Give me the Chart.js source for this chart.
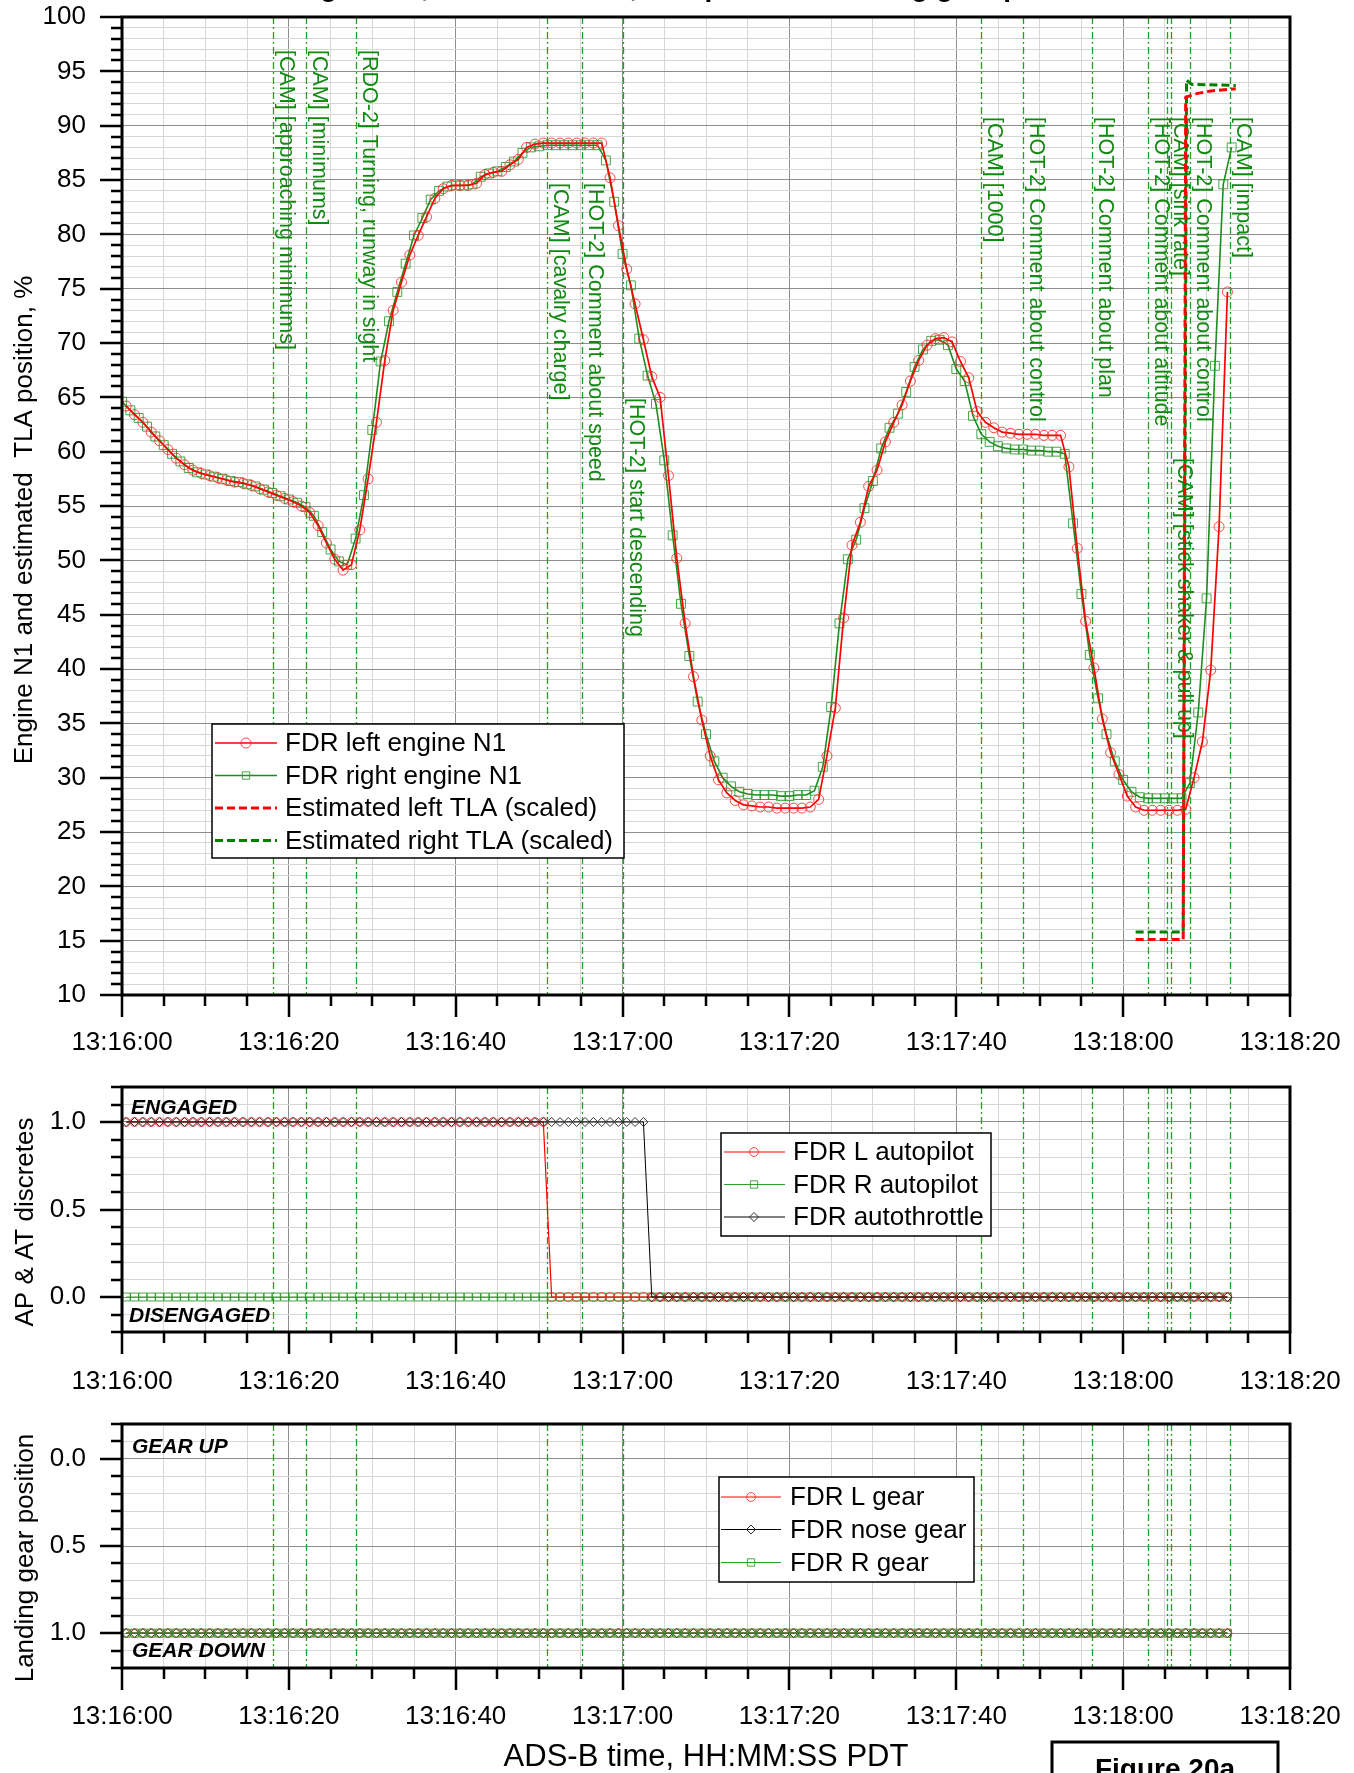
<!DOCTYPE html>
<html>
<head>
<meta charset="utf-8">
<title>Engine N1, TLA, autopilot and landing gear</title>
<script src="https://cdn.jsdelivr.net/npm/chart.js@4.4.1/dist/chart.umd.min.js"></script>
<style>
  html, body { margin: 0; padding: 0; background: #fff; }
  #page { position: relative; width: 1354px; height: 1773px; overflow: hidden; background: #fff; }
  #page canvas { position: absolute; left: 0; }
</style>
</head>
<body>
<div id="page">
  <canvas id="n1Chart" width="1354" height="1075" style="top:0px"></canvas>
  <canvas id="apChart" width="1354" height="330" style="top:1075px"></canvas>
  <canvas id="gearChart" width="1354" height="368" style="top:1405px"></canvas>
</div>
<script>
/* ── data ─────────────────────────────────────────────────── */

const xTickLabels = ['13:16:00', '13:16:20', '13:16:40', '13:17:00', '13:17:20', '13:17:40', '13:18:00', '13:18:20'];
const n1TickLabels = ['10', '15', '20', '25', '30', '35', '40', '45', '50', '55', '60', '65', '70', '75', '80', '85', '90', '95', '100'];
const discreteTickLabels = ['0.0', '0.5', '1.0'];

// FDR N1, one sample a second (seconds after 13:16:00);
// the left engine word lands half a second after the right one
const n1RightStart = 0;
const n1Right = [
  64.6, 63.8, 63.1, 62.3, 61.4, 60.6, 59.8, 59.1, 58.5, 58.1,
  57.9, 57.7, 57.5, 57.3, 57.2, 57.0, 56.8, 56.5, 56.2, 55.9,
  55.6, 55.3, 54.9, 54.1, 52.6, 51.0, 49.9, 49.6, 52.0, 56.0,
  62.0, 68.3, 72.0, 74.7, 77.3, 79.9, 81.5, 83.2, 84.0, 84.4,
  84.5, 84.5, 84.6, 85.3, 85.6, 85.8, 86.2, 86.7, 87.5, 88.0,
  88.1, 88.2, 88.2, 88.2, 88.2, 88.2, 88.2, 88.2, 86.8, 83.0,
  78.2, 75.3, 70.4, 67.0, 64.4, 59.2, 52.3, 46.0, 41.2, 37.0,
  34.0, 31.5, 30.0, 29.2, 28.7, 28.5, 28.4, 28.4, 28.4, 28.3,
  28.3, 28.4, 28.4, 28.8, 31.0, 36.5, 44.2, 50.1, 51.9, 54.8,
  57.3, 60.3, 62.2, 63.5, 65.5, 67.8, 69.4, 70.2, 70.3, 69.8,
  67.6, 66.5, 63.3, 61.6, 60.9, 60.5, 60.3, 60.2, 60.2, 60.1,
  60.1, 60.0, 60.0, 59.8, 53.4, 46.9, 41.3, 37.3, 34.0, 31.5,
  29.8, 28.7, 28.2, 28.1, 28.1, 28.1, 28.1, 28.1, 29.5, 36.0,
  46.5, 67.9, 84.6, 88.0
];
const n1LeftStart = 0.5;
const n1Left = [
  64.2, 63.4, 62.7, 61.8, 61.0, 60.2, 59.4, 58.8, 58.3, 58.0,
  57.8, 57.6, 57.4, 57.2, 57.1, 56.9, 56.6, 56.3, 56.0, 55.7,
  55.4, 55.0, 54.4, 53.2, 51.6, 50.1, 49.1, 49.6, 52.8, 57.5,
  62.7, 68.4, 73.0, 75.6, 78.1, 79.9, 81.6, 83.3, 84.2, 84.5,
  84.5, 84.5, 84.7, 85.5, 85.7, 85.8, 86.4, 86.9, 88.0, 88.3,
  88.4, 88.4, 88.4, 88.4, 88.4, 88.4, 88.4, 88.4, 85.2, 80.8,
  76.8, 73.6, 70.3, 66.9, 65.0, 57.8, 50.2, 44.2, 39.3, 35.3,
  32.0, 29.8, 28.6, 27.9, 27.5, 27.4, 27.3, 27.3, 27.2, 27.2,
  27.2, 27.2, 27.3, 28.0, 32.0, 36.4, 44.7, 51.4, 53.5, 56.8,
  58.3, 60.9, 62.7, 64.3, 66.5, 68.4, 69.8, 70.4, 70.5, 70.1,
  68.3, 66.8, 63.7, 62.7, 62.2, 61.8, 61.7, 61.6, 61.6, 61.6,
  61.5, 61.5, 61.5, 58.6, 51.1, 44.4, 40.1, 35.4, 32.3, 30.3,
  28.3, 27.3, 27.0, 27.0, 27.0, 27.0, 27.0, 27.1, 30.0, 33.3,
  39.9, 53.1, 74.7
];

// estimated thrust lever angle, scaled onto the N1 axis
const tlaLeftT = [121.5, 127.2, 127.5, 128.5, 130.5, 133.5];
const tlaLeft = [15.1, 15.1, 92.6, 92.9, 93.2, 93.4];
const tlaRightT = [121.5, 127.2, 127.6, 128.2, 133.5];
const tlaRight = [15.8, 15.8, 94.2, 93.8, 93.7];

// CVR events, seconds after 13:16:00
const cvrTimes = [18.1, 22.1, 28.0, 51.0, 55.1, 60.0, 103.0, 108.0, 116.3, 123.0, 125.2, 125.7, 128.0, 132.8];
const cvrLabels = [
  '[CAM] [approaching minimums]',
  '[CAM] [minimums]',
  '[RDO-2] Turning, runway in sight',
  '[CAM] [cavalry charge]',
  '[HOT-2] Comment about speed',
  '[HOT-2] start descending',
  '[CAM] [1000]',
  '[HOT-2] Comment about control',
  '[HOT-2] Comment about plan',
  '[HOT-2] Comment about altitude',
  '[CAM] [sink rate]',
  '[CAM] [stick shaker & pull up]',
  '[HOT-2] Comment about control',
  '[CAM] [impact]'
];

// discretes, one sample a second from 0.5 s, stored as [value, count] runs
const discreteStart = 0.5;
const apLeftRuns = [[1, 51], [0, 82]];
const apRightRuns = [[0, 133]];
const atRuns = [[1, 63], [0, 70]];
const gearLeftRuns = [[1, 133]];
const gearNoseRuns = [[1, 133]];
const gearRightRuns = [[1, 133]];

/* ── helpers ──────────────────────────────────────────────── */

const FONT = '"Liberation Sans", Arial, Helvetica, sans-serif';
const MAJOR_GRID = '#8e8e8e';
const MINOR_GRID = '#d7d7d7';
const CVR_LINE = '#23a023';
const CVR_TEXT = '#118a11';

Chart.defaults.font.family = FONT;
Chart.defaults.color = '#000';

function series(start, values) {
  return values.map((v, i) => ({ x: start + i, y: v }));
}

function pairs(ts, values) {
  return ts.map((t, i) => ({ x: t, y: values[i] }));
}

function expandRuns(start, runs) {
  const out = [];
  runs.forEach(([v, n]) => {
    for (let k = 0; k < n; k++) out.push({ x: start + out.length, y: v });
  });
  return out;
}

function onStep(v, step) {
  const r = v / step;
  return Math.abs(r - Math.round(r)) < 1e-6;
}

// fixed axis sizes, and no extra room for overhanging end labels
function fixX(height) {
  return s => { s.height = height; s.paddingLeft = 0; s.paddingRight = 0; };
}
function fixY(s) {
  s.width = 122; s.paddingTop = 0; s.paddingBottom = 0;
}

function timeAxis(height, pad) {
  return {
    type: 'linear', min: 0, max: 140,
    afterFit: fixX(height),
    border: { display: false },
    grid: {
      drawTicks: false, lineWidth: 1,
      color: c => (onStep(c.tick.value, 20) ? MAJOR_GRID : MINOR_GRID)
    },
    ticks: {
      stepSize: 5, autoSkip: false, maxRotation: 0, minRotation: 0, padding: pad,
      font: { size: 26 },
      callback: v => (onStep(v, 20) ? xTickLabels[Math.round(v / 20)] : '')
    }
  };
}

function discreteAxis(reverse) {
  return {
    type: 'linear', min: -0.2, max: 1.2, reverse,
    afterFit: fixY,
    border: { display: false },
    grid: {
      drawTicks: false, lineWidth: 1,
      color: c => (onStep(c.tick.value, 0.5) ? MAJOR_GRID : MINOR_GRID)
    },
    ticks: {
      stepSize: 0.1, autoSkip: false, padding: 36, font: { size: 26 },
      callback: v => {
        const k = Math.round(v * 10);
        return k >= 0 && k <= 10 && k % 5 === 0 ? discreteTickLabels[k / 5] : '';
      }
    }
  };
}

function drawMarker(ctx, style, x, y, r, color) {
  ctx.save();
  ctx.setLineDash([]);
  ctx.strokeStyle = color;
  ctx.lineWidth = 1;
  ctx.beginPath();
  if (style === 'circle') {
    ctx.arc(x, y, r, 0, Math.PI * 2);
  } else if (style === 'rect') {
    const s = r * Math.SQRT1_2;
    ctx.rect(x - s, y - s, 2 * s, 2 * s);
  } else {
    ctx.moveTo(x - r, y); ctx.lineTo(x, y - r); ctx.lineTo(x + r, y); ctx.lineTo(x, y + r); ctx.closePath();
  }
  ctx.stroke();
  ctx.restore();
}

/* ── plugins ──────────────────────────────────────────────── */

// dash-dot event lines, optionally with their rotated captions
function cvrPlugin(labelTops) {
  return {
    id: 'cvr',
    beforeDatasetsDraw(chart) {
      const { ctx, chartArea: a, scales: { x } } = chart;
      ctx.save();
      ctx.beginPath();
      ctx.rect(a.left, a.top, a.right - a.left, a.bottom - a.top);
      ctx.clip();
      ctx.strokeStyle = CVR_LINE;
      ctx.lineWidth = 1.3;
      ctx.setLineDash([7, 3, 2, 3]);
      cvrTimes.forEach(t => {
        const px = Math.round(x.getPixelForValue(t)) + 0.5;
        ctx.beginPath(); ctx.moveTo(px, a.top); ctx.lineTo(px, a.bottom); ctx.stroke();
      });
      if (labelTops) {
        ctx.fillStyle = CVR_TEXT;
        ctx.font = '21.5px ' + FONT;
        ctx.textBaseline = 'alphabetic';
        ctx.textAlign = 'left';
        cvrTimes.forEach((t, i) => {
          ctx.save();
          ctx.translate(x.getPixelForValue(t) + 7, labelTops[i]);
          ctx.rotate(Math.PI / 2);
          ctx.fillText(cvrLabels[i], 0, 0);
          ctx.restore();
        });
      }
      ctx.restore();
    }
  };
}

// heavy frame plus outward tick marks
function framePlugin(yMajorStep) {
  return {
    id: 'frame',
    afterDraw(chart) {
      const { ctx, chartArea: a, scales: { x, y } } = chart;
      ctx.save();
      ctx.strokeStyle = '#000';
      ctx.lineWidth = 2.5;
      ctx.beginPath();
      x.ticks.forEach(t => {
        const px = Math.round(x.getPixelForValue(t.value));
        const len = onStep(t.value, 20) ? 22 : 11;
        ctx.moveTo(px, a.bottom); ctx.lineTo(px, a.bottom + len);
      });
      y.ticks.forEach(t => {
        const py = Math.round(y.getPixelForValue(t.value));
        const len = onStep(t.value, yMajorStep) ? 22 : 11;
        ctx.moveTo(a.left, py); ctx.lineTo(a.left - len, py);
      });
      ctx.stroke();
      ctx.lineWidth = 3;
      ctx.strokeRect(a.left, a.top, a.right - a.left, a.bottom - a.top);
      ctx.restore();
    }
  };
}

// boxed legend built from the dataset styles
function legendPlugin(cfg) {
  return {
    id: 'boxLegend',
    afterDraw(chart) {
      const { ctx } = chart;
      const [x0, y0, x1, y1] = cfg.box;
      ctx.save();
      ctx.fillStyle = '#fff';
      ctx.fillRect(x0, y0, x1 - x0, y1 - y0);
      ctx.strokeStyle = '#000';
      ctx.lineWidth = 1.5;
      ctx.strokeRect(x0, y0, x1 - x0, y1 - y0);
      ctx.font = '26px ' + FONT;
      ctx.textBaseline = 'middle';
      ctx.textAlign = 'left';
      cfg.order.forEach((di, row) => {
        const ds = chart.data.datasets[di];
        const yy = cfg.rowY[row];
        ctx.save();
        ctx.strokeStyle = ds.borderColor;
        ctx.lineWidth = ds.borderWidth;
        ctx.setLineDash(ds.borderDash || []);
        ctx.beginPath(); ctx.moveTo(cfg.lineX[0], yy); ctx.lineTo(cfg.lineX[1], yy); ctx.stroke();
        ctx.restore();
        if (ds.pointRadius > 0) drawMarker(ctx, ds.pointStyle, cfg.markX, yy, Math.min(ds.pointRadius, 5.2), ds.pointBorderColor);
        ctx.fillStyle = '#000';
        ctx.fillText(ds.label, cfg.textX, yy + 1);
      });
      ctx.restore();
    }
  };
}

// free text: axis titles, panel notes, figure caption
function textPlugin(items, boxes) {
  return {
    id: 'freeText',
    afterDraw(chart) {
      const { ctx } = chart;
      (boxes || []).forEach(b => {
        ctx.save();
        ctx.strokeStyle = '#000';
        ctx.lineWidth = b.lw;
        ctx.strokeRect(b.x, b.y, b.w, b.h);
        ctx.restore();
      });
      items.forEach(it => {
        ctx.save();
        ctx.font = it.font;
        ctx.fillStyle = it.color || '#000';
        ctx.textAlign = it.align || 'left';
        ctx.textBaseline = it.baseline || 'middle';
        ctx.translate(it.x, it.y);
        if (it.rotate) ctx.rotate(it.rotate);
        ctx.fillText(it.text, 0, 0);
        ctx.restore();
      });
    }
  };
}

const baseOptions = {
  responsive: false,
  animation: false,
  events: [],
  plugins: { legend: { display: false }, tooltip: { enabled: false } }
};

/* ── engine N1 / TLA ──────────────────────────────────────── */

new Chart(document.getElementById('n1Chart'), {
  type: 'line',
  data: {
    datasets: [
      { label: 'FDR left engine N1', data: series(n1LeftStart, n1Left), borderColor: '#ff0000', borderWidth: 1.7,
        pointStyle: 'circle', pointRadius: 5, pointBorderColor: 'rgba(255,30,30,0.8)', pointBackgroundColor: 'rgba(0,0,0,0)', pointBorderWidth: 1 },
      { label: 'FDR right engine N1', data: series(n1RightStart, n1Right), borderColor: '#1e8c1e', borderWidth: 1.6,
        pointStyle: 'rect', pointRadius: 6.3, pointBorderColor: 'rgba(40,150,40,0.85)', pointBackgroundColor: 'rgba(0,0,0,0)', pointBorderWidth: 1 },
      { label: 'Estimated left TLA (scaled)', data: pairs(tlaLeftT, tlaLeft), borderColor: '#ff0000', borderWidth: 3,
        borderDash: [8, 4], pointRadius: 0 },
      { label: 'Estimated right TLA (scaled)', data: pairs(tlaRightT, tlaRight), borderColor: '#008000', borderWidth: 3,
        borderDash: [8, 4], pointRadius: 0 }
    ]
  },
  options: {
    ...baseOptions,
    layout: { padding: { top: 17, right: 64, left: 0, bottom: 0 }, autoPadding: false },
    scales: {
      x: timeAxis(80, 32),
      y: {
        type: 'linear', min: 10, max: 100,
        afterFit: fixY,
        border: { display: false },
        grid: { drawTicks: false, lineWidth: 1, color: c => (onStep(c.tick.value, 5) ? MAJOR_GRID : MINOR_GRID) },
        ticks: {
          stepSize: 1, autoSkip: false, padding: 36, font: { size: 26 },
          callback: v => (onStep(v, 5) ? n1TickLabels[Math.round((v - 10) / 5)] : '')
        }
      }
    }
  },
  plugins: [
    cvrPlugin([50, 50, 50, 183, 183, 398, 117, 117, 117, 117, 117, 458, 117, 117]),
    framePlugin(5),
    legendPlugin({ box: [212, 724, 624, 858], order: [0, 1, 2, 3], rowY: [743, 775.5, 808, 840.5], lineX: [215, 277], markX: 246, textX: 285 }),
    textPlugin([
      { text: 'Engine N1, estimated TLA, autopilot and landing gear positions', x: 706, y: -4, font: 'bold 28px ' + FONT, align: 'center', baseline: 'alphabetic' },
      { text: 'Engine N1 and estimated  TLA position, %', x: 25, y: 520, font: '26px ' + FONT, align: 'center', rotate: -Math.PI / 2 }
    ])
  ]
});

/* ── autopilot / autothrottle discretes ───────────────────── */

new Chart(document.getElementById('apChart'), {
  type: 'line',
  data: {
    datasets: [
      { label: 'FDR L autopilot', data: expandRuns(discreteStart, apLeftRuns), order: 1, borderColor: '#ff0000', borderWidth: 1.2,
        pointStyle: 'circle', pointRadius: 4.4, pointBorderColor: 'rgba(255,30,30,0.8)', pointBackgroundColor: 'rgba(0,0,0,0)', pointBorderWidth: 1 },
      { label: 'FDR R autopilot', data: expandRuns(discreteStart, apRightRuns), order: 2, borderColor: '#2e9e2e', borderWidth: 1.2,
        pointStyle: 'rect', pointRadius: 5.6, pointBorderColor: 'rgba(40,150,40,0.85)', pointBackgroundColor: 'rgba(0,0,0,0)', pointBorderWidth: 1 },
      { label: 'FDR autothrottle', data: expandRuns(discreteStart, atRuns), order: 0, borderColor: '#000', borderWidth: 1,
        pointStyle: 'rectRot', pointRadius: 4.5, pointBorderColor: '#333', pointBackgroundColor: 'rgba(0,0,0,0)', pointBorderWidth: 1 }
    ]
  },
  options: {
    ...baseOptions,
    layout: { padding: { top: 12, right: 64, left: 0, bottom: 0 }, autoPadding: false },
    scales: { x: timeAxis(73, 34), y: discreteAxis(false) }
  },
  plugins: [
    cvrPlugin(null),
    framePlugin(0.5),
    legendPlugin({ box: [721, 58, 991, 161], order: [0, 1, 2], rowY: [77, 109.5, 142], lineX: [724, 785], markX: 754, textX: 793 }),
    textPlugin([
      { text: 'AP & AT discretes', x: 26, y: 147, font: '26px ' + FONT, align: 'center', rotate: -Math.PI / 2 },
      { text: 'ENGAGED', x: 131, y: 33, font: 'italic bold 21px ' + FONT },
      { text: 'DISENGAGED', x: 129, y: 241, font: 'italic bold 21px ' + FONT }
    ])
  ]
});

/* ── landing gear ─────────────────────────────────────────── */

new Chart(document.getElementById('gearChart'), {
  type: 'line',
  data: {
    datasets: [
      { label: 'FDR L gear', data: expandRuns(discreteStart, gearLeftRuns), order: 2, borderColor: '#ff0000', borderWidth: 1.2,
        pointStyle: 'circle', pointRadius: 4.4, pointBorderColor: 'rgba(255,30,30,0.8)', pointBackgroundColor: 'rgba(0,0,0,0)', pointBorderWidth: 1 },
      { label: 'FDR nose gear', data: expandRuns(discreteStart, gearNoseRuns), order: 1, borderColor: '#000', borderWidth: 1,
        pointStyle: 'rectRot', pointRadius: 4.5, pointBorderColor: '#333', pointBackgroundColor: 'rgba(0,0,0,0)', pointBorderWidth: 1 },
      { label: 'FDR R gear', data: expandRuns(discreteStart, gearRightRuns), order: 0, borderColor: '#2e9e2e', borderWidth: 1.2,
        pointStyle: 'rect', pointRadius: 5.6, pointBorderColor: 'rgba(40,150,40,0.85)', pointBackgroundColor: 'rgba(0,0,0,0)', pointBorderWidth: 1 }
    ]
  },
  options: {
    ...baseOptions,
    layout: { padding: { top: 19, right: 64, left: 0, bottom: 0 }, autoPadding: false },
    scales: { x: timeAxis(105, 33), y: discreteAxis(true) }
  },
  plugins: [
    cvrPlugin(null),
    framePlugin(0.5),
    legendPlugin({ box: [719, 72, 974, 177], order: [0, 1, 2], rowY: [92, 124.5, 157.5], lineX: [721, 781], markX: 751, textX: 790 }),
    textPlugin([
      { text: 'Landing gear position', x: 26, y: 153, font: '26px ' + FONT, align: 'center', rotate: -Math.PI / 2 },
      { text: 'GEAR UP', x: 132, y: 42, font: 'italic bold 21px ' + FONT },
      { text: 'GEAR DOWN', x: 132, y: 246, font: 'italic bold 21px ' + FONT },
      { text: 'ADS-B time, HH:MM:SS PDT', x: 706, y: 352, font: '31px ' + FONT, align: 'center' },
      { text: 'Figure 20a', x: 1165, y: 373, font: 'bold 28px ' + FONT, align: 'center', baseline: 'alphabetic' }
    ], [
      { x: 1052, y: 337, w: 226, h: 60, lw: 3 }
    ])
  ]
});
</script>
</body>
</html>
